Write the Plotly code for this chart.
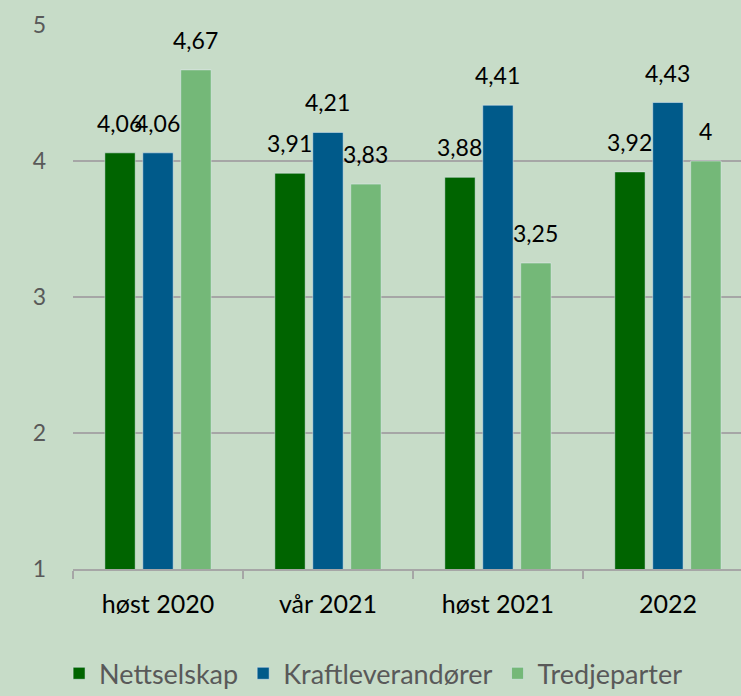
import plotly.graph_objects as go

categories = ["høst 2020", "vår 2021", "høst 2021", "2022"]
nettselskap = [4.06, 3.91, 3.88, 3.92]
kraft = [4.06, 4.21, 4.41, 4.43]
tredje = [4.67, 3.83, 3.25, 4.0]
series = [("Nettselskap", nettselskap, "#006400"),
          ("Kraftleverandører", kraft, "#005a8a"),
          ("Tredjeparter", tredje, "#74b878")]

def fmt(v):
    s = ("%g" % v)
    return s.replace(".", ",")

fig = go.Figure()
annotations = []
offsets = [-38, 0, 38]
for (name, vals, col), off in zip(series, offsets):
    fig.add_trace(go.Bar(
        x=categories, y=vals, name=name, marker_color=col,
    ))
    for i, v in enumerate(vals):
        annotations.append(dict(x=i, y=v, text=fmt(v), showarrow=False, xshift=off,
                                yanchor="bottom", yshift=14,
                                font=dict(size=23, color="#000000", family="Lato")))

fig.update_layout(
    width=741, height=696,
    margin=dict(l=73, r=0, t=25, b=127),
    paper_bgcolor="#c7dcc8", plot_bgcolor="#c7dcc8",
    barmode="group", bargap=0.33, bargroupgap=0.2,
    font=dict(family="Lato", color="#595959"),
    showlegend=True,
    legend=dict(orientation="h", x=0.45, xanchor="center",
                yref="container", y=0.032, yanchor="middle",
                font=dict(size=27, color="#595959"), itemwidth=30,
                bgcolor="rgba(0,0,0,0)"),
    annotations=annotations,
)
fig.update_yaxes(range=[1, 5], dtick=1, showgrid=True, gridcolor="#a6a6a6", gridwidth=1.5,
                 zeroline=False, showline=False, tickfont=dict(size=23, color="#595959"),
                 ticklabelstandoff=26, automargin=False)
fig.update_xaxes(type="category", range=[-0.5, 3.43], showline=True, linecolor="#a6a6a6",
                 linewidth=1.5, ticks="outside", tickson="boundaries", ticklen=8,
                 tickcolor="#a6a6a6", tickwidth=1.5,
                 tickfont=dict(size=25, color="#000000"), ticklabelstandoff=12,
                 automargin=False)

fig.write_html("out.html", config={"displayModeBar": False},
               post_script="document.body.style.margin='0';")
